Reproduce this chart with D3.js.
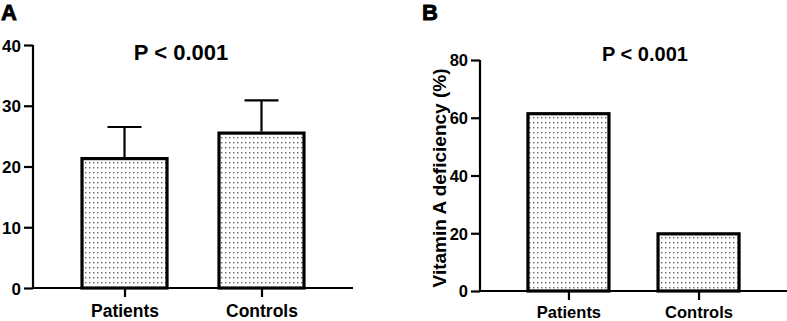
<!DOCTYPE html>
<html>
<head>
<meta charset="utf-8">
<script src="https://cdn.jsdelivr.net/npm/d3@7"></script>
<style>
    body { margin: 0; background: #fff; }
    text { font-family: "Liberation Sans", Arial, sans-serif; font-weight: bold; fill: #000; }
</style>
</head>
<body>
<div id="chart"></div>
<script>
// data
var groups = ["Patients", "Controls"];
var meanA = [21.3, 25.5];
var sdA = [5.2, 5.4];
var ticksA = [0, 10, 20, 30, 40];
var deficiencyB = [61.4, 19.8];
var ticksB = [0, 20, 40, 60, 80];

function init() {
    var w = 787;
    var h = 321;

    var svg = d3.select("#chart")
        .append("svg")
        .attr("width", w)
        .attr("height", h);

    // dotted fill for the bars
    var pat = svg.append("defs")
        .append("pattern")
        .attr("id", "dots")
        .attr("patternUnits", "userSpaceOnUse")
        .attr("width", 4)
        .attr("height", 5);
    pat.append("rect").attr("width", 4).attr("height", 5).attr("fill", "#fff");
    pat.append("rect")
        .attr("x", 1).attr("y", 2)
        .attr("width", 1.4).attr("height", 1.4)
        .attr("fill", "#666");

    function drawPanel(opt) {
        var g = svg.append("g");

        var x = d3.scalePoint()
            .domain(groups)
            .range([opt.left, opt.right])
            .padding(opt.pad);

        var y = d3.scaleLinear()
            .domain([0, opt.max])
            .range([opt.bottom, opt.top]);

        // y axis
        var yAxis = d3.axisLeft(y)
            .tickValues(opt.ticks)
            .tickSize(9)
            .tickPadding(3);
        var ya = g.append("g")
            .attr("transform", "translate(" + opt.left + ",0)")
            .call(yAxis);
        ya.select(".domain").attr("stroke-width", 2.2).attr("d", "M0," + y(opt.max) + "V" + y(0));
        ya.selectAll(".tick line").attr("stroke-width", 2.2);
        ya.selectAll(".tick text")
            .style("font-size", opt.tickFont + "px")
            .attr("dy", "0.36em");

        // bars
        g.selectAll(".bar")
            .data(opt.values)
            .enter()
            .append("rect")
            .attr("class", "bar")
            .attr("x", function (d, i) { return x(groups[i]) - opt.barW / 2; })
            .attr("y", function (d) { return y(d); })
            .attr("width", opt.barW)
            .attr("height", function (d) { return y(0) - y(d); })
            .attr("fill", "url(#dots)")
            .attr("stroke", "#000")
            .attr("stroke-width", 3.2);

        // upper error bars
        if (opt.errors) {
            opt.values.forEach(function (d, i) {
                var cx = x(groups[i]);
                g.append("line")
                    .attr("x1", cx).attr("x2", cx)
                    .attr("y1", y(d) - 1.5).attr("y2", y(d + opt.errors[i]))
                    .attr("stroke", "#000").attr("stroke-width", 2.2);
                g.append("line")
                    .attr("x1", cx - opt.capW / 2).attr("x2", cx + opt.capW / 2)
                    .attr("y1", y(d + opt.errors[i])).attr("y2", y(d + opt.errors[i]))
                    .attr("stroke", "#000").attr("stroke-width", 2.2);
            });
        }

        // x axis
        var xAxis = d3.axisBottom(x)
            .tickSize(9)
            .tickPadding(opt.catPad);
        var xa = g.append("g")
            .attr("transform", "translate(0," + opt.bottom + ")")
            .call(xAxis);
        xa.select(".domain").attr("stroke-width", 2.2).attr("d", "M" + opt.left + ",0H" + opt.right);
        xa.selectAll(".tick line").attr("stroke-width", 2.2);
        xa.selectAll(".tick text")
            .style("font-size", opt.catFont + "px")
            .attr("dy", "0.71em");

        // p value
        g.append("text")
            .attr("x", opt.pX)
            .attr("y", opt.pY)
            .attr("text-anchor", "middle")
            .style("font-size", opt.pFont + "px")
            .text("P < 0.001");

        // panel letter
        g.append("text")
            .attr("x", opt.letterX)
            .attr("y", 20)
            .style("font-size", "22px")
            .style("stroke", "#000")
            .style("stroke-width", 0.8)
            .text(opt.letter);

        return g;
    }

    drawPanel({
        letter: "A", letterX: 1,
        left: 33, right: 353, pad: 0.668,
        top: 45, bottom: 288, max: 40,
        ticks: ticksA, values: meanA, errors: sdA,
        barW: 85, capW: 34,
        tickFont: 17, catFont: 17.5, catPad: 8,
        pX: 181, pY: 60, pFont: 22
    });

    var gB = drawPanel({
        letter: "B", letterX: 422,
        left: 480, right: 787, pad: 0.68,
        top: 60, bottom: 291, max: 80,
        ticks: ticksB, values: deficiencyB, errors: null,
        barW: 81, capW: 0,
        tickFont: 16.5, catFont: 16.5, catPad: 6,
        pX: 645, pY: 61, pFont: 20
    });

    // y axis title panel B
    gB.append("text")
        .attr("transform", "translate(446,178) rotate(-90)")
        .attr("text-anchor", "middle")
        .style("font-size", "19px")
        .text("Vitamin A deficiency (%)");
}

window.onload = init;
</script>
</body>
</html>
